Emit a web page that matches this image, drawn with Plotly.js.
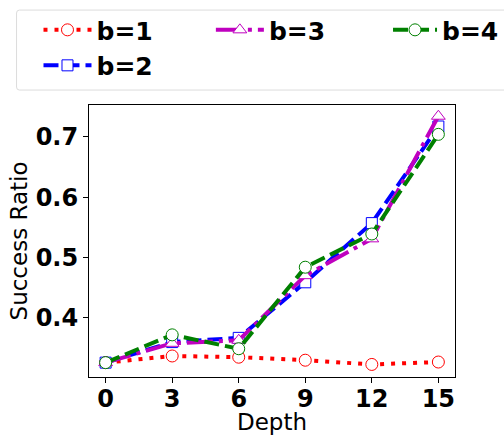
<!DOCTYPE html>
<html><head><meta charset="utf-8">
<script src="https://cdn.plot.ly/plotly-3.0.1.min.js"></script>
<style>html,body{margin:0;padding:0;background:#fff}#chart{width:504px;height:435px}</style>
</head><body><div id="chart"></div>
<script>
const depth = [0, 3, 6, 9, 12, 15];
const b1 = [0.326, 0.337, 0.335, 0.330, 0.323, 0.327];
const b2 = [0.326, 0.360, 0.367, 0.459, 0.557, 0.717];
const b3 = [0.326, 0.358, 0.363, 0.470, 0.531, 0.734];
const b4 = [0.326, 0.372, 0.349, 0.484, 0.539, 0.704];
const names = ['b=1', 'b=2', 'b=3', 'b=4'];
const xTicks = [0, 3, 6, 9, 12, 15];
const yTicks = [0.4, 0.5, 0.6, 0.7];

const FONT = 'DejaVu Sans, sans-serif';
function mk(sym, size, col) {
  return {symbol: sym, size: size, color: '#ffffff', line: {width: 1, color: col}};
}
const traces = [
  {x: depth, y: b1, name: names[0], legend: 'legend', mode: 'lines+markers',
   line: {color: '#ff0000', width: 4, dash: '4px,7px'}, marker: mk('circle', 12, '#ff0000')},
  {x: depth, y: b2, name: names[1], legend: 'legend', mode: 'lines+markers',
   line: {color: '#0000ff', width: 4, dash: '15px,6px'}, marker: mk('square', 11, '#0000ff')},
  {x: depth, y: b3, name: names[2], legend: 'legend2', mode: 'lines+markers',
   line: {color: '#bf00bf', width: 4, dash: '26px,6px,4px,6px'}, marker: mk('triangle-up', 12, '#bf00bf')},
  {x: depth, y: b4, name: names[3], legend: 'legend3', mode: 'lines+markers',
   line: {color: '#008000', width: 4, dash: '15px,6px'}, marker: mk('circle', 12, '#008000')}
];

const legCommon = {font: {family: FONT, size: 25, color: '#000', weight: 'bold'},
  bgcolor: 'rgba(0,0,0,0)', borderwidth: 0, itemwidth: 48, orientation: 'v',
  xanchor: 'left', yanchor: 'top', tracegroupgap: 0};

// rounded legend frame in paper coordinates
const fx0 = -0.198, fx1 = 1.2, fy0 = 1.055, fy1 = 1.349, rx = 0.008, ry = 0.011;
const framePath = 'M ' + (fx0 + rx) + ',' + fy1 + ' L ' + (fx1 - rx) + ',' + fy1 +
  ' Q ' + fx1 + ',' + fy1 + ' ' + fx1 + ',' + (fy1 - ry) + ' L ' + fx1 + ',' + (fy0 + ry) +
  ' Q ' + fx1 + ',' + fy0 + ' ' + (fx1 - rx) + ',' + fy0 + ' L ' + (fx0 + rx) + ',' + fy0 +
  ' Q ' + fx0 + ',' + fy0 + ' ' + fx0 + ',' + (fy0 + ry) + ' L ' + fx0 + ',' + (fy1 - ry) +
  ' Q ' + fx0 + ',' + fy1 + ' ' + (fx0 + rx) + ',' + fy1 + ' Z';

const layout = {
  width: 504, height: 435,
  margin: {l: 89, r: 49, t: 105, b: 58, autoexpand: false},
  paper_bgcolor: '#fff', plot_bgcolor: '#fff',
  font: {family: FONT, color: '#000'},
  showlegend: true,
  legend: Object.assign({}, legCommon, {x: -0.138, y: 1.36}),
  legend2: Object.assign({}, legCommon, {x: 0.333, y: 1.36}),
  legend3: Object.assign({}, legCommon, {x: 0.817, y: 1.36, orientation: 'h', itemwidth: 44,
    entrywidth: 58, entrywidthmode: 'pixels'}),
  xaxis: {
    range: [-0.75, 15.75], tickvals: xTicks, ticktext: xTicks.map(String),
    showgrid: false, zeroline: false, showline: true, mirror: true,
    linecolor: '#000', linewidth: 1, ticks: 'outside', ticklen: 5, tickcolor: '#000',
    ticklabelstandoff: -5,
    tickfont: {family: FONT, size: 24, weight: 'bold'},
    title: {text: 'Depth', font: {family: FONT, size: 23}, standoff: 7}
  },
  yaxis: {
    range: [0.3022, 0.7526], tickvals: yTicks, ticktext: yTicks.map(v => v.toFixed(1)),
    showgrid: false, zeroline: false, showline: true, mirror: true,
    linecolor: '#000', linewidth: 1, ticks: 'outside', ticklen: 5, tickcolor: '#000',
    tickfont: {family: FONT, size: 24, weight: 'bold'},
    title: {text: 'Success Ratio', font: {family: FONT, size: 23}, standoff: 1}
  },
  shapes: [{type: 'path', xref: 'paper', yref: 'paper', path: framePath,
    line: {color: '#dcdcdc', width: 1}, fillcolor: 'rgba(255,255,255,0.8)', layer: 'below'}]
};

Plotly.newPlot('chart', traces, layout, {displayModeBar: false, staticPlot: true});
</script></body></html>
